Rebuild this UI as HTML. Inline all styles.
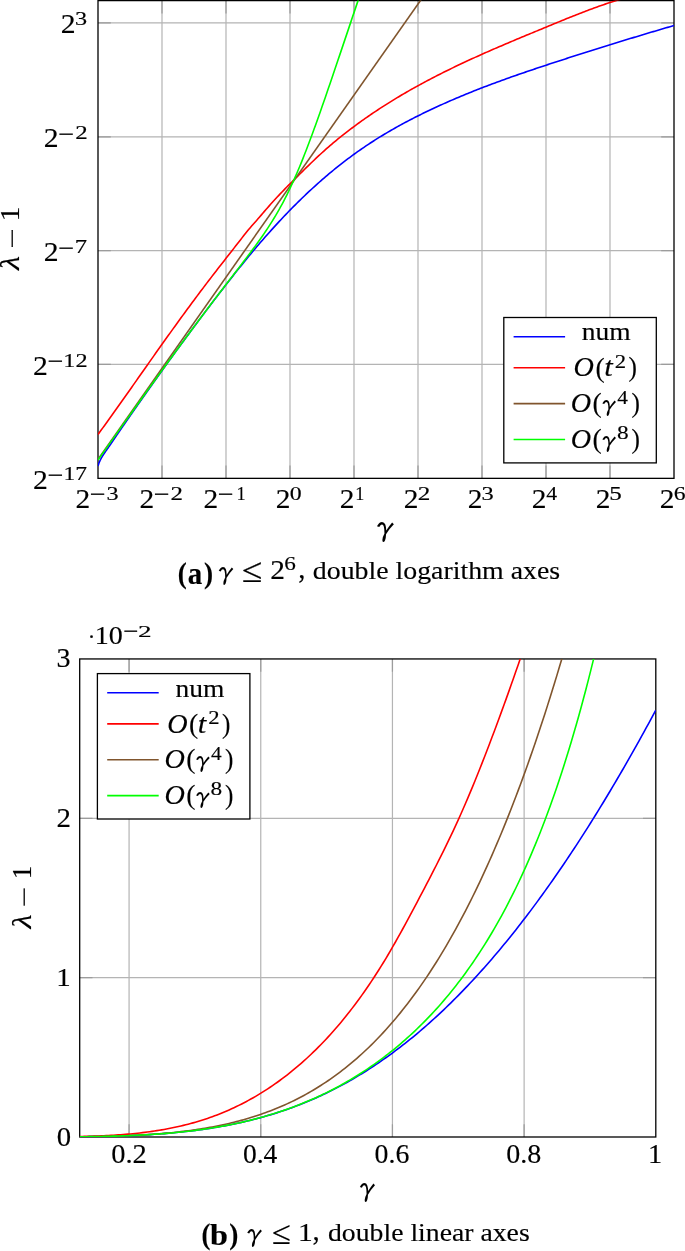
<!DOCTYPE html>
<html><head><meta charset="utf-8"><title>figure</title><style>html,body{margin:0;padding:0;background:#fff;overflow:hidden}svg{display:block}</style></head><body>
<svg width="685" height="1251" viewBox="0 0 685 1251">
<rect width="685" height="1251" fill="#fff"/>
<defs><clipPath id="ca"><rect x="98.0" y="0.6" width="576.0" height="477.75"/></clipPath><clipPath id="cb"><rect x="79.7" y="658.95" width="576.1" height="478.05"/></clipPath></defs>
<path d="M162,0.6V478.35 M226,0.6V478.35 M290,0.6V478.35 M354,0.6V478.35 M418,0.6V478.35 M482,0.6V478.35 M546,0.6V478.35 M610,0.6V478.35 M98,22.96H674 M98,136.8H674 M98,250.63H674 M98,364.47H674" stroke="#b4b4b4" stroke-width="1.2" fill="none"/>
<path d="M162,478.35v-12.8M162,0.6v12.8 M226,478.35v-12.8M226,0.6v12.8 M290,478.35v-12.8M290,0.6v12.8 M354,478.35v-12.8M354,0.6v12.8 M418,478.35v-12.8M418,0.6v12.8 M482,478.35v-12.8M482,0.6v12.8 M546,478.35v-12.8M546,0.6v12.8 M610,478.35v-12.8M610,0.6v12.8 M98,22.96h12.8M674,22.96h-12.8 M98,136.8h12.8M674,136.8h-12.8 M98,250.63h12.8M674,250.63h-12.8 M98,364.47h12.8M674,364.47h-12.8" stroke="#9c9c9c" stroke-width="1.2" fill="none"/>
<rect x="98" y="0.6" width="576" height="477.75" stroke="#000" stroke-width="1.3" fill="none"/>
<g clip-path="url(#ca)" fill="none" stroke-width="1.6" stroke-linejoin="round">
<path d="M98,466.07 L98.2,465.4 L98.4,464.77 L98.6,464.17 L98.8,463.6 L99,463.06 L99.2,462.55 L99.4,462.05 L99.6,461.58 L99.8,461.13 L100,460.69 L100.2,460.26 L100.4,459.85 L100.6,459.46 L100.8,459.07 L101,458.69 L101.2,458.33 L101.4,457.97 L101.6,457.62 L101.8,457.27 L102,456.93 L102.2,456.6 L102.4,456.27 L102.6,455.95 L102.8,455.63 L103,455.31 L103.2,455 L103.4,454.69 L103.6,454.38 L103.8,454.08 L104,453.77 L104.2,453.47 L104.4,453.18 L104.6,452.88 L104.8,452.58 L105,452.29 L105.2,452 L105.4,451.71 L105.6,451.42 L105.8,451.13 L106,450.84 L106.2,450.55 L106.4,450.26 L106.6,449.97 L106.8,449.69 L107,449.4 L107.2,449.12 L107.4,448.83 L107.6,448.55 L107.8,448.26 L108,447.98 L108.2,447.7 L108.4,447.41 L108.6,447.13 L108.8,446.85 L109,446.56 L109.2,446.28 L109.4,446 L109.6,445.72 L109.8,445.44 L110,445.15 L110.2,444.86 L110.4,444.56 L110.6,444.26 L110.8,443.96 L111,443.67 L111.2,443.37 L111.4,443.08 L111.6,442.78 L111.8,442.48 L112,442.19 L112.2,441.89 L112.4,441.6 L112.6,441.3 L112.8,441.01 L113,440.71 L113.2,440.42 L113.4,440.12 L113.6,439.83 L113.8,439.53 L114,439.24 L114.2,438.94 L114.4,438.65 L114.6,438.35 L114.8,438.06 L115,437.77 L115.2,437.47 L115.4,437.18 L115.6,436.88 L115.8,436.59 L116,436.3 L116.2,436 L116.4,435.71 L116.6,435.42 L116.8,435.12 L117,434.83 L117.2,434.54 L117.4,434.25 L117.6,433.95 L117.8,433.66 L118,433.37 L118.2,433.08 L118.4,432.78 L118.6,432.49 L118.8,432.2 L119,431.91 L119.2,431.62 L119.4,431.32 L119.6,431.03 L119.8,430.74 L120,430.45 L120.2,430.16 L120.4,429.87 L120.6,429.58 L120.8,429.28 L121,428.99 L121.2,428.7 L121.4,428.41 L121.6,428.12 L121.8,427.83 L122,427.54 L122.2,427.25 L122.4,426.96 L122.6,426.67 L122.8,426.38 L123,426.09 L123.2,425.8 L123.4,425.51 L123.6,425.22 L123.8,424.93 L124,424.64 L124.2,424.35 L124.4,424.06 L124.6,423.77 L124.8,423.48 L125,423.19 L125.2,422.9 L125.4,422.61 L125.6,422.32 L125.8,422.03 L126,421.74 L126.2,421.45 L126.4,421.16 L126.6,420.88 L126.8,420.59 L127,420.3 L127.2,420.01 L127.4,419.72 L127.6,419.43 L127.8,419.14 L128,418.86 L128.2,418.57 L128.4,418.28 L128.6,417.99 L128.8,417.7 L129,417.42 L129.2,417.13 L129.4,416.84 L129.6,416.55 L129.8,416.26 L130,415.98 L130.2,415.69 L130.4,415.4 L130.6,415.11 L130.8,414.83 L131,414.54 L131.2,414.25 L131.4,413.97 L131.6,413.68 L131.8,413.39 L132,413.1 L132.2,412.82 L132.4,412.53 L132.6,412.24 L132.8,411.96 L133,411.67 L133.2,411.38 L133.4,411.1 L133.6,410.81 L133.8,410.53 L134,410.24 L134.2,409.95 L134.4,409.67 L134.6,409.38 L134.8,409.09 L135,408.81 L135.2,408.52 L135.4,408.24 L135.6,407.95 L135.8,407.67 L136,407.38 L136.2,407.09 L136.4,406.81 L136.6,406.52 L136.8,406.24 L137,405.95 L137.2,405.67 L137.4,405.38 L137.6,405.1 L137.8,404.81 L138,404.53 L138.2,404.24 L138.4,403.96 L138.6,403.67 L138.8,403.39 L139,403.1 L139.2,402.82 L139.4,402.53 L139.6,402.25 L139.8,401.97 L140,401.68 L140.2,401.4 L140.4,401.11 L140.6,400.83 L140.8,400.54 L141,400.26 L141.2,399.98 L141.4,399.69 L141.6,399.41 L141.8,399.12 L142,398.84 L142.2,398.56 L142.4,398.27 L142.6,397.99 L142.8,397.71 L143,397.42 L143.2,397.14 L143.4,396.86 L143.6,396.57 L143.8,396.29 L144,396.01 L144.2,395.72 L144.4,395.44 L144.6,395.16 L144.8,394.87 L145,394.59 L145.2,394.31 L145.4,394.02 L145.6,393.74 L145.8,393.46 L146,393.18 L146.2,392.89 L146.4,392.61 L146.6,392.33 L146.8,392.05 L147,391.76 L147.2,391.48 L147.4,391.2 L147.6,390.92 L147.8,390.64 L148,390.35 L148.2,390.07 L148.4,389.79 L148.6,389.51 L148.8,389.23 L149,388.94 L149.2,388.66 L149.4,388.38 L149.6,388.1 L149.8,387.82 L150,387.54 L150.2,387.25 L150.4,386.97 L150.6,386.69 L150.8,386.4 L151,386.12 L151.2,385.84 L151.4,385.55 L151.6,385.27 L151.8,384.99 L152,384.71 L152.2,384.42 L152.4,384.14 L152.6,383.86 L152.8,383.58 L153,383.29 L153.2,383.01 L153.4,382.73 L153.6,382.45 L153.8,382.16 L154,381.88 L154.2,381.6 L154.4,381.32 L154.6,381.04 L154.8,380.76 L155,380.47 L155.2,380.19 L155.4,379.91 L155.6,379.63 L155.8,379.35 L156,379.07 L156.2,378.79 L156.4,378.51 L156.6,378.23 L156.8,377.94 L157,377.66 L157.2,377.38 L157.4,377.1 L157.6,376.82 L157.8,376.54 L158,376.26 L158.2,375.98 L158.4,375.7 L158.6,375.42 L158.8,375.14 L159,374.86 L159.2,374.58 L159.4,374.3 L159.6,374.02 L159.8,373.74 L160,373.46 L160.2,373.18 L160.4,372.9 L160.6,372.62 L160.8,372.34 L161,372.06 L161.2,371.79 L161.4,371.51 L161.6,371.23 L161.8,370.95 L162,370.67 L162.64,369.78 L164.24,367.55 L165.84,365.33 L167.43,363.11 L169.03,360.9 L170.63,358.69 L172.23,356.49 L173.83,354.29 L175.42,352.09 L177.02,349.9 L178.62,347.71 L180.22,345.53 L181.82,343.35 L183.41,341.17 L185.01,339 L186.61,336.83 L188.21,334.66 L189.81,332.5 L191.4,330.34 L193,328.19 L194.6,326.04 L196.2,323.9 L197.8,321.76 L199.39,319.62 L200.99,317.49 L202.59,315.37 L204.19,313.25 L205.79,311.13 L207.38,309.02 L208.98,306.91 L210.58,304.8 L212.18,302.7 L213.78,300.61 L215.37,298.52 L216.97,296.43 L218.57,294.35 L220.17,292.28 L221.77,290.2 L223.36,288.14 L224.96,286.08 L226.56,284.03 L228.16,281.98 L229.76,279.94 L231.35,277.91 L232.95,275.89 L234.55,273.87 L236.15,271.86 L237.75,269.86 L239.34,267.87 L240.94,265.88 L242.54,263.91 L244.14,261.94 L245.74,259.99 L247.33,258.04 L248.93,256.11 L250.53,254.18 L252.13,252.27 L253.73,250.36 L255.32,248.47 L256.92,246.58 L258.52,244.71 L260.12,242.85 L261.72,241 L263.31,239.16 L264.91,237.33 L266.51,235.51 L268.11,233.71 L269.71,231.91 L271.3,230.13 L272.9,228.36 L274.5,226.6 L276.1,224.85 L277.7,223.11 L279.29,221.39 L280.89,219.68 L282.49,217.98 L284.09,216.29 L285.69,214.62 L287.28,212.95 L288.88,211.3 L290.48,209.67 L292.08,208.04 L293.68,206.43 L295.27,204.82 L296.87,203.24 L298.47,201.66 L300.07,200.09 L301.67,198.54 L303.26,197 L304.86,195.47 L306.46,193.95 L308.06,192.45 L309.66,190.96 L311.25,189.47 L312.85,188.01 L314.45,186.55 L316.05,185.1 L317.65,183.67 L319.24,182.25 L320.84,180.84 L322.44,179.45 L324.04,178.06 L325.64,176.69 L327.23,175.33 L328.83,173.98 L330.43,172.64 L332.03,171.32 L333.63,170 L335.22,168.7 L336.82,167.41 L338.42,166.13 L340.02,164.87 L341.62,163.61 L343.21,162.37 L344.81,161.14 L346.41,159.92 L348.01,158.72 L349.61,157.52 L351.2,156.34 L352.8,155.17 L354.4,154.01 L356,152.86 L357.6,151.72 L359.19,150.6 L360.79,149.48 L362.39,148.38 L363.99,147.29 L365.59,146.21 L367.18,145.14 L368.78,144.08 L370.38,143.03 L371.98,141.99 L373.58,140.96 L375.17,139.94 L376.77,138.93 L378.37,137.93 L379.97,136.94 L381.57,135.96 L383.16,134.99 L384.76,134.03 L386.36,133.08 L387.96,132.13 L389.56,131.2 L391.15,130.27 L392.75,129.35 L394.35,128.44 L395.95,127.54 L397.55,126.65 L399.14,125.76 L400.74,124.89 L402.34,124.02 L403.94,123.15 L405.54,122.3 L407.13,121.45 L408.73,120.61 L410.33,119.78 L411.93,118.95 L413.53,118.13 L415.12,117.32 L416.72,116.51 L418.32,115.71 L419.92,114.91 L421.52,114.12 L423.11,113.34 L424.71,112.56 L426.31,111.79 L427.91,111.02 L429.51,110.26 L431.1,109.51 L432.7,108.76 L434.3,108.01 L435.9,107.27 L437.5,106.53 L439.09,105.8 L440.69,105.08 L442.29,104.36 L443.89,103.64 L445.49,102.93 L447.08,102.22 L448.68,101.52 L450.28,100.82 L451.88,100.13 L453.48,99.44 L455.07,98.75 L456.67,98.07 L458.27,97.4 L459.87,96.73 L461.47,96.06 L463.06,95.4 L464.66,94.74 L466.26,94.08 L467.86,93.43 L469.46,92.78 L471.05,92.14 L472.65,91.5 L474.25,90.86 L475.85,90.23 L477.45,89.6 L479.04,88.97 L480.64,88.35 L482.24,87.73 L483.84,87.12 L485.44,86.5 L487.03,85.9 L488.63,85.29 L490.23,84.69 L491.83,84.09 L493.43,83.49 L495.02,82.9 L496.62,82.31 L498.22,81.72 L499.82,81.14 L501.42,80.55 L503.01,79.97 L504.61,79.4 L506.21,78.82 L507.81,78.25 L509.41,77.68 L511,77.12 L512.6,76.55 L514.2,75.99 L515.8,75.43 L517.4,74.87 L518.99,74.32 L520.59,73.76 L522.19,73.21 L523.79,72.66 L525.39,72.12 L526.98,71.57 L528.58,71.03 L530.18,70.49 L531.78,69.95 L533.38,69.41 L534.97,68.87 L536.57,68.33 L538.17,67.8 L539.77,67.27 L541.37,66.74 L542.96,66.21 L544.56,65.68 L546.16,65.15 L547.76,64.62 L549.36,64.1 L550.95,63.57 L552.55,63.05 L554.15,62.53 L555.75,62.01 L557.35,61.48 L558.94,60.96 L560.54,60.45 L562.14,59.93 L563.74,59.41 L565.34,58.89 L566.93,58.38 L568.53,57.86 L570.13,57.35 L571.73,56.83 L573.33,56.32 L574.92,55.81 L576.52,55.3 L578.12,54.78 L579.72,54.27 L581.32,53.77 L582.91,53.26 L584.51,52.75 L586.11,52.24 L587.71,51.74 L589.31,51.23 L590.9,50.73 L592.5,50.22 L594.1,49.72 L595.7,49.22 L597.3,48.72 L598.89,48.21 L600.49,47.71 L602.09,47.22 L603.69,46.72 L605.29,46.22 L606.88,45.72 L608.48,45.23 L610.08,44.73 L611.68,44.23 L613.28,43.74 L614.87,43.25 L616.47,42.75 L618.07,42.26 L619.67,41.77 L621.27,41.28 L622.86,40.79 L624.46,40.3 L626.06,39.81 L627.66,39.33 L629.26,38.84 L630.85,38.35 L632.45,37.87 L634.05,37.38 L635.65,36.9 L637.25,36.42 L638.84,35.93 L640.44,35.45 L642.04,34.97 L643.64,34.49 L645.24,34.01 L646.83,33.53 L648.43,33.05 L650.03,32.58 L651.63,32.1 L653.23,31.62 L654.82,31.15 L656.42,30.67 L658.02,30.2 L659.62,29.72 L661.22,29.25 L662.81,28.78 L664.41,28.31 L666.01,27.84 L667.61,27.37 L669.21,26.9 L670.8,26.43 L672.4,25.96 L674,25.5" stroke="#0000ff"/>
<path d="M98,434.44 L99.6,432.26 L101.2,430.06 L102.8,427.86 L104.4,425.66 L106,423.44 L107.6,421.22 L109.2,419 L110.8,416.77 L112.4,414.54 L114,412.3 L115.6,410.05 L117.2,407.8 L118.8,405.55 L120.4,403.29 L122,401.04 L123.6,398.77 L125.2,396.51 L126.8,394.24 L128.4,391.97 L130,389.7 L131.6,387.42 L133.2,385.15 L134.8,382.87 L136.4,380.6 L138,378.32 L139.6,376.04 L141.2,373.77 L142.8,371.49 L144.4,369.21 L146,366.94 L147.6,364.67 L149.2,362.39 L150.8,360.12 L152.4,357.86 L154,355.59 L155.6,353.33 L157.2,351.07 L158.8,348.81 L160.4,346.56 L162,344.31 L163.6,342.06 L165.2,339.81 L166.8,337.57 L168.4,335.34 L170,333.1 L171.6,330.88 L173.2,328.65 L174.8,326.43 L176.4,324.21 L178,322 L179.6,319.8 L181.2,317.59 L182.8,315.4 L184.4,313.21 L186,311.02 L187.6,308.84 L189.2,306.66 L190.8,304.49 L192.4,302.33 L194,300.17 L195.6,298.02 L197.2,295.87 L198.8,293.73 L200.4,291.6 L202,289.48 L203.6,287.36 L205.2,285.24 L206.8,283.14 L208.4,281.04 L210,278.95 L211.6,276.87 L213.2,274.79 L214.8,272.72 L216.4,270.66 L218,268.6 L219.6,266.54 L221.2,264.49 L222.8,262.44 L224.4,260.4 L226,258.35 L227.6,256.31 L229.2,254.26 L230.8,252.22 L232.4,250.18 L234,248.13 L235.6,246.09 L237.2,244.04 L238.8,241.98 L240.4,239.93 L242,237.87 L243.6,235.81 L245.2,233.77 L246.8,231.77 L248.4,229.81 L250,227.92 L251.6,226.08 L253.2,224.27 L254.8,222.47 L256.4,220.67 L258,218.84 L259.6,216.98 L261.2,215.11 L262.8,213.23 L264.4,211.37 L266,209.52 L267.6,207.69 L269.2,205.88 L270.8,204.08 L272.4,202.3 L274,200.53 L275.6,198.78 L277.2,197.05 L278.8,195.34 L280.4,193.65 L282,191.98 L283.6,190.32 L285.2,188.68 L286.8,187.05 L288.4,185.43 L290,183.82 L291.6,182.22 L293.2,180.62 L294.8,179.02 L296.4,177.43 L298,175.83 L299.6,174.24 L301.2,172.66 L302.8,171.08 L304.4,169.5 L306,167.93 L307.6,166.37 L309.2,164.82 L310.8,163.27 L312.4,161.73 L314,160.21 L315.6,158.69 L317.2,157.19 L318.8,155.7 L320.4,154.22 L322,152.76 L323.6,151.31 L325.2,149.88 L326.8,148.46 L328.4,147.06 L330,145.68 L331.6,144.31 L333.2,142.95 L334.8,141.61 L336.4,140.29 L338,138.98 L339.6,137.68 L341.2,136.39 L342.8,135.12 L344.4,133.86 L346,132.61 L347.6,131.38 L349.2,130.15 L350.8,128.94 L352.4,127.74 L354,126.54 L355.6,125.36 L357.2,124.18 L358.8,123.02 L360.4,121.86 L362,120.72 L363.6,119.58 L365.2,118.45 L366.8,117.34 L368.4,116.23 L370,115.12 L371.6,114.03 L373.2,112.95 L374.8,111.87 L376.4,110.81 L378,109.75 L379.6,108.7 L381.2,107.66 L382.8,106.62 L384.4,105.6 L386,104.58 L387.6,103.57 L389.2,102.57 L390.8,101.57 L392.4,100.59 L394,99.6 L395.6,98.63 L397.2,97.67 L398.8,96.71 L400.4,95.76 L402,94.81 L403.6,93.87 L405.2,92.94 L406.8,92.01 L408.4,91.1 L410,90.18 L411.6,89.28 L413.2,88.38 L414.8,87.48 L416.4,86.6 L418,85.71 L419.6,84.84 L421.2,83.97 L422.8,83.1 L424.4,82.24 L426,81.39 L427.6,80.54 L429.2,79.69 L430.8,78.86 L432.4,78.02 L434,77.19 L435.6,76.37 L437.2,75.55 L438.8,74.74 L440.4,73.93 L442,73.12 L443.6,72.32 L445.2,71.52 L446.8,70.73 L448.4,69.94 L450,69.16 L451.6,68.38 L453.2,67.61 L454.8,66.83 L456.4,66.07 L458,65.3 L459.6,64.54 L461.2,63.79 L462.8,63.04 L464.4,62.29 L466,61.54 L467.6,60.8 L469.2,60.06 L470.8,59.33 L472.4,58.59 L474,57.87 L475.6,57.14 L477.2,56.42 L478.8,55.7 L480.4,54.98 L482,54.27 L483.6,53.56 L485.2,52.85 L486.8,52.14 L488.4,51.44 L490,50.74 L491.6,50.04 L493.2,49.34 L494.8,48.64 L496.4,47.95 L498,47.26 L499.6,46.57 L501.2,45.89 L502.8,45.2 L504.4,44.52 L506,43.84 L507.6,43.16 L509.2,42.48 L510.8,41.81 L512.4,41.13 L514,40.46 L515.6,39.78 L517.2,39.11 L518.8,38.44 L520.4,37.77 L522,37.11 L523.6,36.44 L525.2,35.77 L526.8,35.11 L528.4,34.44 L530,33.78 L531.6,33.12 L533.2,32.45 L534.8,31.79 L536.4,31.13 L538,30.47 L539.6,29.8 L541.2,29.14 L542.8,28.48 L544.4,27.82 L546,27.16 L547.6,26.5 L549.2,25.83 L550.8,25.17 L552.4,24.51 L554,23.85 L555.6,23.19 L557.2,22.53 L558.8,21.87 L560.4,21.22 L562,20.56 L563.6,19.91 L565.2,19.26 L566.8,18.61 L568.4,17.96 L570,17.32 L571.6,16.67 L573.2,16.04 L574.8,15.4 L576.4,14.77 L578,14.14 L579.6,13.51 L581.2,12.89 L582.8,12.27 L584.4,11.65 L586,11.04 L587.6,10.44 L589.2,9.84 L590.8,9.24 L592.4,8.65 L594,8.06 L595.6,7.48 L597.2,6.91 L598.8,6.34 L600.4,5.77 L602,5.21 L603.6,4.66 L605.2,4.12 L606.8,3.58 L608.4,3.05 L610,2.53 L611.6,2.01 L613.2,1.5 L614.8,1 L616.4,0.5 L618,0.02 L619.6,-0.46 L621.2,-0.93 L622.8,-1.39" stroke="#ff0000"/>
<path d="M98,459.4 L424.4,-5.05" stroke="#80552d"/>
<path d="M98,459.93 L99.6,457.67 L101.2,455.41 L102.8,453.15 L104.4,450.9 L106,448.64 L107.6,446.39 L109.2,444.13 L110.8,441.88 L112.4,439.63 L114,437.38 L115.6,435.13 L117.2,432.88 L118.8,430.63 L120.4,428.38 L122,426.13 L123.6,423.89 L125.2,421.64 L126.8,419.4 L128.4,417.15 L130,414.91 L131.6,412.67 L133.2,410.43 L134.8,408.2 L136.4,405.96 L138,403.72 L139.6,401.49 L141.2,399.26 L142.8,397.03 L144.4,394.8 L146,392.57 L147.6,390.34 L149.2,388.12 L150.8,385.9 L152.4,383.68 L154,381.46 L155.6,379.24 L157.2,377.02 L158.8,374.81 L160.4,372.6 L162,370.39 L163.6,368.19 L165.2,365.98 L166.8,363.78 L168.4,361.58 L170,359.38 L171.6,357.19 L173.2,355 L174.8,352.81 L176.4,350.62 L178,348.44 L179.6,346.26 L181.2,344.08 L182.8,341.9 L184.4,339.73 L186,337.56 L187.6,335.4 L189.2,333.24 L190.8,331.08 L192.4,328.92 L194,326.77 L195.6,324.62 L197.2,322.48 L198.8,320.34 L200.4,318.2 L202,316.07 L203.6,313.94 L205.2,311.81 L206.8,309.69 L208.4,307.57 L210,305.46 L211.6,303.35 L213.2,301.24 L214.8,299.14 L216.4,297.04 L218,294.94 L219.6,292.85 L221.2,290.75 L222.8,288.67 L224.4,286.58 L226,284.5 L227.6,282.42 L229.2,280.34 L230.8,278.26 L232.4,276.18 L234,274.1 L235.6,272.03 L237.2,269.95 L238.8,267.87 L240.4,265.78 L242,263.69 L243.6,261.6 L245.2,259.5 L246.8,257.39 L248.4,255.27 L250,253.15 L251.6,251.01 L253.2,248.85 L254.8,246.68 L256.4,244.49 L258,242.27 L259.6,240.04 L261.2,237.77 L262.8,235.48 L264.4,233.15 L266,230.78 L267.6,228.38 L269.2,225.93 L270.8,223.43 L272.4,220.88 L274,218.27 L275.6,215.61 L277.2,212.88 L278.8,210.09 L280.4,207.23 L282,204.29 L283.6,201.28 L285.2,198.19 L286.8,195.02 L288.4,191.77 L290,188.44 L291.6,185.03 L293.2,181.53 L294.8,177.95 L296.4,174.29 L298,170.54 L299.6,166.73 L301.2,162.83 L302.8,158.86 L304.4,154.82 L306,150.72 L307.6,146.55 L309.2,142.33 L310.8,138.05 L312.4,133.72 L314,129.34 L315.6,124.91 L317.2,120.45 L318.8,115.95 L320.4,111.41 L322,106.84 L323.6,102.25 L325.2,97.64 L326.8,93 L328.4,88.34 L330,83.66 L331.6,78.97 L333.2,74.27 L334.8,69.56 L336.4,64.84 L338,60.11 L339.6,55.37 L341.2,50.63 L342.8,45.88 L344.4,41.13 L346,36.38 L347.6,31.63 L349.2,26.88 L350.8,22.13 L352.4,17.37 L354,12.62 L355.6,7.87 L357.2,3.13 L358.8,-1.62 L360.4,-6.36 L362,-11.1 L363.6,-15.84 L365.2,-20.57 L366.8,-25.3" stroke="#00ff00"/>
</g>
<rect x="503.8" y="317.5" width="152.5" height="145.4" fill="#fff" stroke="#000" stroke-width="1.3"/>
<path d="M513.6,336.7H565.1" stroke="#0000ff" stroke-width="1.6"/>
<path d="M513.6,367.8H565.1" stroke="#ff0000" stroke-width="1.6"/>
<path d="M513.6,403.6H565.1" stroke="#80552d" stroke-width="1.6"/>
<path d="M513.6,439.5H565.1" stroke="#00ff00" stroke-width="1.6"/>
<g font-family="'Liberation Serif', serif" fill="#000" stroke="#000" stroke-width="0.15" stroke-linejoin="round">
<text x="581.87" y="340.4" font-size="25.05" textLength="48.87" lengthAdjust="spacingAndGlyphs">num</text>
<text x="573.59" y="376.4" font-size="26.74" font-style="italic" textLength="20.36" lengthAdjust="spacingAndGlyphs">O</text>
<text x="595.38" y="376.66" font-size="28.34" textLength="9.2" lengthAdjust="spacingAndGlyphs">(</text>
<text x="604.15" y="376.4" font-size="27" font-style="italic" textLength="8.53" lengthAdjust="spacingAndGlyphs">t</text>
<text x="614.7" y="367.7" font-size="19.03" textLength="11.35" lengthAdjust="spacingAndGlyphs">2</text>
<text x="628.39" y="376.49" font-size="28.22" textLength="8.42" lengthAdjust="spacingAndGlyphs">)</text>
<text x="570.89" y="412.1" font-size="26.74" font-style="italic" textLength="20.36" lengthAdjust="spacingAndGlyphs">O</text>
<text x="592.58" y="412.36" font-size="28.34" textLength="9.2" lengthAdjust="spacingAndGlyphs">(</text>
<text transform="translate(597.78,414.34) scale(0.9017,1) skewX(-0.00)" font-size="25.39" font-family="'IPAGothic', 'Liberation Serif', serif" stroke-width="0.0">γ</text>
<text x="617.37" y="403.6" font-size="19.3" textLength="10.67" lengthAdjust="spacingAndGlyphs">4</text>
<text x="631.49" y="412.19" font-size="28.22" textLength="8.42" lengthAdjust="spacingAndGlyphs">)</text>
<text x="570.89" y="447.7" font-size="26.74" font-style="italic" textLength="20.36" lengthAdjust="spacingAndGlyphs">O</text>
<text x="592.58" y="447.96" font-size="28.34" textLength="9.2" lengthAdjust="spacingAndGlyphs">(</text>
<text transform="translate(597.78,449.94) scale(0.9017,1) skewX(-0.00)" font-size="25.39" font-family="'IPAGothic', 'Liberation Serif', serif" stroke-width="0.0">γ</text>
<text x="616.91" y="439.01" font-size="18.81" textLength="11.67" lengthAdjust="spacingAndGlyphs">8</text>
<text x="631.49" y="447.79" font-size="28.22" textLength="8.42" lengthAdjust="spacingAndGlyphs">)</text>
</g>
<g font-family="'Liberation Serif', serif" fill="#000" stroke="#000" stroke-width="0.15" stroke-linejoin="round">
<text x="75.14" y="24.88" font-size="18.3" textLength="12.11" lengthAdjust="spacingAndGlyphs">3</text>
<text x="60.79" y="33.31" font-size="26.51" textLength="14.84" lengthAdjust="spacingAndGlyphs">2</text>
<text x="75.2" y="138.9" font-size="18.58" textLength="12.47" lengthAdjust="spacingAndGlyphs">2</text>
<text x="58.38" y="141.81" font-size="24" textLength="16.01" lengthAdjust="spacingAndGlyphs">−</text>
<text x="43.79" y="147.15" font-size="26.51" textLength="14.84" lengthAdjust="spacingAndGlyphs">2</text>
<text x="74.67" y="252.73" font-size="18.78" textLength="12.35" lengthAdjust="spacingAndGlyphs">7</text>
<text x="58.38" y="255.65" font-size="24" textLength="16.01" lengthAdjust="spacingAndGlyphs">−</text>
<text x="43.79" y="260.98" font-size="26.51" textLength="14.84" lengthAdjust="spacingAndGlyphs">2</text>
<text x="63.36" y="366.57" font-size="18.58" textLength="24.27" lengthAdjust="spacingAndGlyphs">12</text>
<text x="47.58" y="369.48" font-size="24" textLength="16.01" lengthAdjust="spacingAndGlyphs">−</text>
<text x="32.99" y="374.82" font-size="26.51" textLength="14.84" lengthAdjust="spacingAndGlyphs">2</text>
<text x="63.43" y="480.4" font-size="18.64" textLength="23.56" lengthAdjust="spacingAndGlyphs">17</text>
<text x="47.58" y="483.32" font-size="24" textLength="16.01" lengthAdjust="spacingAndGlyphs">−</text>
<text x="32.99" y="488.65" font-size="26.51" textLength="14.84" lengthAdjust="spacingAndGlyphs">2</text>
<text x="75.61" y="507.9" font-size="26.59" textLength="14.71" lengthAdjust="spacingAndGlyphs">2</text>
<text x="89.69" y="502.47" font-size="24" textLength="15.89" lengthAdjust="spacingAndGlyphs">−</text>
<text x="106.44" y="499.72" font-size="18.3" textLength="12.11" lengthAdjust="spacingAndGlyphs">3</text>
<text x="139.61" y="507.9" font-size="26.59" textLength="14.71" lengthAdjust="spacingAndGlyphs">2</text>
<text x="153.69" y="502.47" font-size="24" textLength="15.89" lengthAdjust="spacingAndGlyphs">−</text>
<text x="170.5" y="499.9" font-size="18.58" textLength="12.47" lengthAdjust="spacingAndGlyphs">2</text>
<text x="203.61" y="507.9" font-size="26.59" textLength="14.71" lengthAdjust="spacingAndGlyphs">2</text>
<text x="217.69" y="502.47" font-size="24" textLength="15.89" lengthAdjust="spacingAndGlyphs">−</text>
<text x="236.38" y="499.9" font-size="18.64" textLength="9.23" lengthAdjust="spacingAndGlyphs">1</text>
<text x="275.86" y="507.9" font-size="26.59" textLength="14.71" lengthAdjust="spacingAndGlyphs">2</text>
<text x="289.89" y="499.72" font-size="18.22" textLength="11.91" lengthAdjust="spacingAndGlyphs">0</text>
<text x="339.86" y="507.9" font-size="26.59" textLength="14.71" lengthAdjust="spacingAndGlyphs">2</text>
<text x="355.2" y="499.9" font-size="18.64" textLength="9.09" lengthAdjust="spacingAndGlyphs">1</text>
<text x="403.86" y="507.9" font-size="26.59" textLength="14.71" lengthAdjust="spacingAndGlyphs">2</text>
<text x="417.69" y="499.9" font-size="18.58" textLength="12.59" lengthAdjust="spacingAndGlyphs">2</text>
<text x="467.86" y="507.9" font-size="26.59" textLength="14.71" lengthAdjust="spacingAndGlyphs">2</text>
<text x="481.63" y="499.72" font-size="18.3" textLength="12.23" lengthAdjust="spacingAndGlyphs">3</text>
<text x="531.86" y="507.9" font-size="26.59" textLength="14.71" lengthAdjust="spacingAndGlyphs">2</text>
<text x="546.36" y="499.9" font-size="18.69" textLength="10.88" lengthAdjust="spacingAndGlyphs">4</text>
<text x="595.86" y="507.9" font-size="26.59" textLength="14.71" lengthAdjust="spacingAndGlyphs">2</text>
<text x="609.35" y="499.72" font-size="18.5" textLength="12.53" lengthAdjust="spacingAndGlyphs">5</text>
<text x="659.86" y="507.9" font-size="26.59" textLength="14.71" lengthAdjust="spacingAndGlyphs">2</text>
<text x="673.78" y="499.72" font-size="18.3" textLength="11.83" lengthAdjust="spacingAndGlyphs">6</text>
<text transform="translate(371.35,539.49) scale(0.9405,1) skewX(-0.00)" font-size="30.25" font-family="'IPAGothic', 'Liberation Serif', serif" stroke-width="0.0">γ</text>
<g transform="translate(18.7,0) rotate(-90)">
<text x="-269.93" y="0" font-size="26.56" font-style="italic" textLength="13.94" lengthAdjust="spacingAndGlyphs">λ</text>
<text x="-248.51" y="1.37" font-size="24" textLength="20.38" lengthAdjust="spacingAndGlyphs">−</text>
<text x="-221.55" y="0" font-size="26.67" textLength="15.06" lengthAdjust="spacingAndGlyphs">1</text>
</g>
<text x="177.7" y="583.22" font-size="29" font-weight="bold" textLength="9.07" lengthAdjust="spacingAndGlyphs">(</text>
<text x="187.67" y="583.88" font-size="32.15" font-weight="bold" textLength="14.46" lengthAdjust="spacingAndGlyphs">a</text>
<text x="203.93" y="583.22" font-size="29" font-weight="bold" textLength="9.07" lengthAdjust="spacingAndGlyphs">)</text>
<text transform="translate(213.84,581.79) scale(0.9117,1) skewX(-0.00)" font-size="26.96" font-family="'IPAGothic', 'Liberation Serif', serif" stroke-width="0.0">γ</text>
<text x="242.06" y="582" font-size="34.32" textLength="20.61" lengthAdjust="spacingAndGlyphs">≤</text>
<text x="270.31" y="578.9" font-size="27.19" textLength="14.71" lengthAdjust="spacingAndGlyphs">2</text>
<text x="284.3" y="569.52" font-size="18.3" textLength="11.59" lengthAdjust="spacingAndGlyphs">6</text>
<text x="298.2" y="578.13" font-size="30.35" textLength="7.21" lengthAdjust="spacingAndGlyphs">,</text>
<text x="312.8" y="579.1" font-size="25.65" textLength="247.4" lengthAdjust="spacingAndGlyphs">double logarithm axes</text>
</g>
<path d="M129.08,658.95V1137 M260.76,658.95V1137 M392.44,658.95V1137 M524.12,658.95V1137 M79.7,977.65H655.8 M79.7,818.3H655.8" stroke="#b4b4b4" stroke-width="1.2" fill="none"/>
<path d="M129.08,1137v-12.8M129.08,658.95v12.8 M260.76,1137v-12.8M260.76,658.95v12.8 M392.44,1137v-12.8M392.44,658.95v12.8 M524.12,1137v-12.8M524.12,658.95v12.8 M79.7,977.65h12.8M655.8,977.65h-12.8 M79.7,818.3h12.8M655.8,818.3h-12.8" stroke="#9c9c9c" stroke-width="1.2" fill="none"/>
<rect x="79.7" y="658.95" width="576.1" height="478.05" stroke="#000" stroke-width="1.3" fill="none"/>
<g clip-path="url(#cb)" fill="none" stroke-width="1.6" stroke-linejoin="round">
<path d="M79.7,1136.79 L82.11,1136.76 L84.52,1136.73 L86.93,1136.7 L89.34,1136.67 L91.75,1136.63 L94.16,1136.6 L96.57,1136.56 L98.98,1136.51 L101.39,1136.46 L103.8,1136.41 L106.22,1136.36 L108.63,1136.3 L111.04,1136.24 L113.45,1136.17 L115.86,1136.1 L118.27,1136.03 L120.68,1135.95 L123.09,1135.87 L125.5,1135.78 L127.91,1135.69 L130.32,1135.59 L132.73,1135.49 L135.14,1135.38 L137.55,1135.27 L139.96,1135.15 L142.37,1135.02 L144.78,1134.89 L147.19,1134.75 L149.6,1134.61 L152.01,1134.46 L154.42,1134.3 L156.83,1134.13 L159.25,1133.96 L161.66,1133.78 L164.07,1133.6 L166.48,1133.4 L168.89,1133.2 L171.3,1132.99 L173.71,1132.77 L176.12,1132.54 L178.53,1132.3 L180.94,1132.06 L183.35,1131.8 L185.76,1131.54 L188.17,1131.27 L190.58,1130.98 L192.99,1130.69 L195.4,1130.39 L197.81,1130.07 L200.22,1129.75 L202.63,1129.42 L205.04,1129.07 L207.45,1128.71 L209.86,1128.35 L212.28,1127.97 L214.69,1127.58 L217.1,1127.17 L219.51,1126.76 L221.92,1126.33 L224.33,1125.89 L226.74,1125.44 L229.15,1124.97 L231.56,1124.49 L233.97,1124 L236.38,1123.49 L238.79,1122.98 L241.2,1122.44 L243.61,1121.89 L246.02,1121.33 L248.43,1120.76 L250.84,1120.16 L253.25,1119.56 L255.66,1118.94 L258.07,1118.3 L260.48,1117.65 L262.89,1116.98 L265.31,1116.3 L267.72,1115.6 L270.13,1114.88 L272.54,1114.15 L274.95,1113.4 L277.36,1112.63 L279.77,1111.85 L282.18,1111.05 L284.59,1110.23 L287,1109.39 L289.41,1108.54 L291.82,1107.66 L294.23,1106.77 L296.64,1105.86 L299.05,1104.93 L301.46,1103.99 L303.87,1103.02 L306.28,1102.03 L308.69,1101.03 L311.1,1100 L313.51,1098.96 L315.93,1097.9 L318.34,1096.81 L320.75,1095.71 L323.16,1094.58 L325.57,1093.44 L327.98,1092.27 L330.39,1091.08 L332.8,1089.88 L335.21,1088.65 L337.62,1087.4 L340.03,1086.13 L342.44,1084.83 L344.85,1083.52 L347.26,1082.18 L349.67,1080.83 L352.08,1079.45 L354.49,1078.05 L356.9,1076.62 L359.31,1075.18 L361.72,1073.71 L364.13,1072.22 L366.54,1070.7 L368.96,1069.16 L371.37,1067.61 L373.78,1066.02 L376.19,1064.42 L378.6,1062.79 L381.01,1061.14 L383.42,1059.46 L385.83,1057.76 L388.24,1056.04 L390.65,1054.3 L393.06,1052.53 L395.47,1050.73 L397.88,1048.92 L400.29,1047.08 L402.7,1045.21 L405.11,1043.33 L407.52,1041.41 L409.93,1039.48 L412.34,1037.52 L414.75,1035.53 L417.16,1033.52 L419.57,1031.49 L421.99,1029.43 L424.4,1027.35 L426.81,1025.24 L429.22,1023.11 L431.63,1020.95 L434.04,1018.77 L436.45,1016.57 L438.86,1014.34 L441.27,1012.08 L443.68,1009.8 L446.09,1007.5 L448.5,1005.17 L450.91,1002.81 L453.32,1000.43 L455.73,998.03 L458.14,995.6 L460.55,993.14 L462.96,990.66 L465.37,988.15 L467.78,985.62 L470.19,983.07 L472.61,980.48 L475.02,977.88 L477.43,975.24 L479.84,972.58 L482.25,969.9 L484.66,967.19 L487.07,964.46 L489.48,961.69 L491.89,958.91 L494.3,956.1 L496.71,953.26 L499.12,950.4 L501.53,947.51 L503.94,944.6 L506.35,941.66 L508.76,938.69 L511.17,935.7 L513.58,932.68 L515.99,929.64 L518.4,926.58 L520.81,923.48 L523.22,920.36 L525.64,917.22 L528.05,914.05 L530.46,910.86 L532.87,907.64 L535.28,904.39 L537.69,901.12 L540.1,897.82 L542.51,894.5 L544.92,891.15 L547.33,887.78 L549.74,884.38 L552.15,880.95 L554.56,877.5 L556.97,874.03 L559.38,870.53 L561.79,867 L564.2,863.45 L566.61,859.88 L569.02,856.28 L571.43,852.65 L573.84,849 L576.25,845.32 L578.67,841.62 L581.08,837.89 L583.49,834.14 L585.9,830.36 L588.31,826.56 L590.72,822.74 L593.13,818.88 L595.54,815.01 L597.95,811.11 L600.36,807.18 L602.77,803.23 L605.18,799.26 L607.59,795.26 L610,791.23 L612.41,787.18 L614.82,783.11 L617.23,779.01 L619.64,774.89 L622.05,770.74 L624.46,766.57 L626.87,762.38 L629.28,758.16 L631.7,753.91 L634.11,749.64 L636.52,745.35 L638.93,741.03 L641.34,736.69 L643.75,732.33 L646.16,727.94 L648.57,723.53 L650.98,719.09 L653.39,714.63 L655.8,710.14" stroke="#0000ff"/>
<path d="M79.7,1136.54 L82.11,1136.48 L84.52,1136.42 L86.93,1136.36 L89.34,1136.29 L91.75,1136.21 L94.16,1136.13 L96.57,1136.04 L98.98,1135.95 L101.39,1135.85 L103.8,1135.74 L106.22,1135.62 L108.63,1135.49 L111.04,1135.36 L113.45,1135.22 L115.86,1135.06 L118.27,1134.9 L120.68,1134.73 L123.09,1134.55 L125.5,1134.35 L127.91,1134.15 L130.32,1133.93 L132.73,1133.7 L135.14,1133.46 L137.55,1133.21 L139.96,1132.94 L142.37,1132.66 L144.78,1132.36 L147.19,1132.06 L149.6,1131.73 L152.01,1131.39 L154.42,1131.04 L156.83,1130.66 L159.25,1130.28 L161.66,1129.87 L164.07,1129.45 L166.48,1129.01 L168.89,1128.55 L171.3,1128.07 L173.71,1127.58 L176.12,1127.06 L178.53,1126.53 L180.94,1125.97 L183.35,1125.39 L185.76,1124.8 L188.17,1124.18 L190.58,1123.53 L192.99,1122.87 L195.4,1122.18 L197.81,1121.47 L200.22,1120.74 L202.63,1119.98 L205.04,1119.19 L207.45,1118.39 L209.86,1117.55 L212.28,1116.69 L214.69,1115.81 L217.1,1114.89 L219.51,1113.95 L221.92,1112.98 L224.33,1111.99 L226.74,1110.96 L229.15,1109.91 L231.56,1108.83 L233.97,1107.72 L236.38,1106.57 L238.79,1105.4 L241.2,1104.2 L243.61,1102.97 L246.02,1101.7 L248.43,1100.4 L250.84,1099.07 L253.25,1097.71 L255.66,1096.32 L258.07,1094.89 L260.48,1093.43 L262.89,1091.93 L265.31,1090.4 L267.72,1088.84 L270.13,1087.24 L272.54,1085.6 L274.95,1083.93 L277.36,1082.23 L279.77,1080.48 L282.18,1078.7 L284.59,1076.88 L287,1075.03 L289.41,1073.13 L291.82,1071.2 L294.23,1069.22 L296.64,1067.21 L299.05,1065.16 L301.46,1063.06 L303.87,1060.92 L306.28,1058.74 L308.69,1056.52 L311.1,1054.25 L313.51,1051.94 L315.93,1049.58 L318.34,1047.18 L320.75,1044.73 L323.16,1042.23 L325.57,1039.69 L327.98,1037.1 L330.39,1034.46 L332.8,1031.77 L335.21,1029.03 L337.62,1026.24 L340.03,1023.4 L342.44,1020.5 L344.85,1017.55 L347.26,1014.55 L349.67,1011.5 L352.08,1008.38 L354.49,1005.22 L356.9,1001.99 L359.31,998.71 L361.72,995.37 L364.13,991.97 L366.54,988.51 L368.96,984.98 L371.37,981.4 L373.78,977.75 L376.19,974.04 L378.6,970.26 L381.01,966.42 L383.42,962.52 L385.83,958.54 L388.24,954.5 L390.65,950.39 L393.06,946.22 L395.47,942 L397.88,937.72 L400.29,933.39 L402.7,929.01 L405.11,924.59 L407.52,920.14 L409.93,915.65 L412.34,911.13 L414.75,906.59 L417.16,902.03 L419.57,897.46 L421.99,892.88 L424.4,888.28 L426.81,883.67 L429.22,879.04 L431.63,874.39 L434.04,869.71 L436.45,864.99 L438.86,860.23 L441.27,855.43 L443.68,850.58 L446.09,845.68 L448.5,840.71 L450.91,835.68 L453.32,830.57 L455.73,825.38 L458.14,820.11 L460.55,814.75 L462.96,809.29 L465.37,803.74 L467.78,798.11 L470.19,792.39 L472.61,786.58 L475.02,780.7 L477.43,774.74 L479.84,768.7 L482.25,762.6 L484.66,756.44 L487.07,750.21 L489.48,743.92 L491.89,737.58 L494.3,731.18 L496.71,724.73 L499.12,718.22 L501.53,711.65 L503.94,705.03 L506.35,698.36 L508.76,691.62 L511.17,684.84 L513.58,677.99 L515.99,671.1 L518.4,664.15 L520.81,657.14 L523.22,650.08" stroke="#ff0000"/>
<path d="M79.7,1136.78 L82.11,1136.76 L84.52,1136.73 L86.93,1136.7 L89.34,1136.66 L91.75,1136.63 L94.16,1136.59 L96.57,1136.54 L98.98,1136.5 L101.39,1136.45 L103.8,1136.4 L106.22,1136.34 L108.63,1136.28 L111.04,1136.21 L113.45,1136.15 L115.86,1136.07 L118.27,1135.99 L120.68,1135.91 L123.09,1135.82 L125.5,1135.73 L127.91,1135.63 L130.32,1135.53 L132.73,1135.42 L135.14,1135.3 L137.55,1135.18 L139.96,1135.05 L142.37,1134.92 L144.78,1134.78 L147.19,1134.63 L149.6,1134.47 L152.01,1134.31 L154.42,1134.14 L156.83,1133.96 L159.25,1133.77 L161.66,1133.57 L164.07,1133.36 L166.48,1133.15 L168.89,1132.93 L171.3,1132.69 L173.71,1132.45 L176.12,1132.19 L178.53,1131.93 L180.94,1131.65 L183.35,1131.37 L185.76,1131.07 L188.17,1130.76 L190.58,1130.44 L192.99,1130.11 L195.4,1129.76 L197.81,1129.4 L200.22,1129.03 L202.63,1128.64 L205.04,1128.24 L207.45,1127.83 L209.86,1127.4 L212.28,1126.96 L214.69,1126.5 L217.1,1126.02 L219.51,1125.54 L221.92,1125.03 L224.33,1124.51 L226.74,1123.97 L229.15,1123.41 L231.56,1122.84 L233.97,1122.24 L236.38,1121.63 L238.79,1121 L241.2,1120.36 L243.61,1119.69 L246.02,1119 L248.43,1118.29 L250.84,1117.56 L253.25,1116.81 L255.66,1116.04 L258.07,1115.25 L260.48,1114.43 L262.89,1113.59 L265.31,1112.73 L267.72,1111.85 L270.13,1110.94 L272.54,1110 L274.95,1109.04 L277.36,1108.06 L279.77,1107.05 L282.18,1106.02 L284.59,1104.95 L287,1103.86 L289.41,1102.75 L291.82,1101.6 L294.23,1100.43 L296.64,1099.22 L299.05,1097.99 L301.46,1096.73 L303.87,1095.44 L306.28,1094.12 L308.69,1092.76 L311.1,1091.38 L313.51,1089.96 L315.93,1088.51 L318.34,1087.02 L320.75,1085.5 L323.16,1083.95 L325.57,1082.36 L327.98,1080.74 L330.39,1079.08 L332.8,1077.38 L335.21,1075.65 L337.62,1073.88 L340.03,1072.07 L342.44,1070.23 L344.85,1068.34 L347.26,1066.42 L349.67,1064.45 L352.08,1062.44 L354.49,1060.4 L356.9,1058.31 L359.31,1056.18 L361.72,1054 L364.13,1051.78 L366.54,1049.52 L368.96,1047.21 L371.37,1044.86 L373.78,1042.46 L376.19,1040.02 L378.6,1037.52 L381.01,1034.98 L383.42,1032.4 L385.83,1029.76 L388.24,1027.07 L390.65,1024.33 L393.06,1021.55 L395.47,1018.71 L397.88,1015.82 L400.29,1012.87 L402.7,1009.87 L405.11,1006.82 L407.52,1003.72 L409.93,1000.56 L412.34,997.34 L414.75,994.07 L417.16,990.73 L419.57,987.35 L421.99,983.9 L424.4,980.39 L426.81,976.83 L429.22,973.2 L431.63,969.51 L434.04,965.76 L436.45,961.95 L438.86,958.07 L441.27,954.13 L443.68,950.13 L446.09,946.06 L448.5,941.92 L450.91,937.72 L453.32,933.45 L455.73,929.11 L458.14,924.7 L460.55,920.22 L462.96,915.67 L465.37,911.05 L467.78,906.36 L470.19,901.6 L472.61,896.76 L475.02,891.85 L477.43,886.86 L479.84,881.8 L482.25,876.66 L484.66,871.45 L487.07,866.15 L489.48,860.78 L491.89,855.33 L494.3,849.79 L496.71,844.18 L499.12,838.48 L501.53,832.71 L503.94,826.85 L506.35,820.9 L508.76,814.87 L511.17,808.75 L513.58,802.55 L515.99,796.26 L518.4,789.88 L520.81,783.41 L523.22,776.85 L525.64,770.2 L528.05,763.46 L530.46,756.63 L532.87,749.7 L535.28,742.68 L537.69,735.56 L540.1,728.35 L542.51,721.04 L544.92,713.63 L547.33,706.13 L549.74,698.52 L552.15,690.82 L554.56,683.01 L556.97,675.11 L559.38,667.1 L561.79,658.98 L564.2,650.76" stroke="#80552d"/>
<path d="M79.7,1136.79 L82.11,1136.76 L84.52,1136.73 L86.93,1136.7 L89.34,1136.67 L91.75,1136.63 L94.16,1136.6 L96.57,1136.55 L98.98,1136.51 L101.39,1136.46 L103.8,1136.41 L106.22,1136.36 L108.63,1136.3 L111.04,1136.24 L113.45,1136.17 L115.86,1136.1 L118.27,1136.03 L120.68,1135.95 L123.09,1135.87 L125.5,1135.78 L127.91,1135.69 L130.32,1135.59 L132.73,1135.49 L135.14,1135.38 L137.55,1135.26 L139.96,1135.14 L142.37,1135.02 L144.78,1134.89 L147.19,1134.75 L149.6,1134.6 L152.01,1134.45 L154.42,1134.3 L156.83,1134.13 L159.25,1133.96 L161.66,1133.78 L164.07,1133.59 L166.48,1133.4 L168.89,1133.19 L171.3,1132.98 L173.71,1132.76 L176.12,1132.53 L178.53,1132.3 L180.94,1132.05 L183.35,1131.8 L185.76,1131.53 L188.17,1131.26 L190.58,1130.97 L192.99,1130.68 L195.4,1130.38 L197.81,1130.06 L200.22,1129.74 L202.63,1129.4 L205.04,1129.06 L207.45,1128.7 L209.86,1128.33 L212.28,1127.95 L214.69,1127.56 L217.1,1127.15 L219.51,1126.74 L221.92,1126.31 L224.33,1125.87 L226.74,1125.41 L229.15,1124.95 L231.56,1124.47 L233.97,1123.97 L236.38,1123.47 L238.79,1122.94 L241.2,1122.41 L243.61,1121.86 L246.02,1121.3 L248.43,1120.72 L250.84,1120.12 L253.25,1119.51 L255.66,1118.89 L258.07,1118.25 L260.48,1117.59 L262.89,1116.92 L265.31,1116.24 L267.72,1115.53 L270.13,1114.81 L272.54,1114.07 L274.95,1113.32 L277.36,1112.55 L279.77,1111.76 L282.18,1110.95 L284.59,1110.13 L287,1109.28 L289.41,1108.42 L291.82,1107.54 L294.23,1106.64 L296.64,1105.72 L299.05,1104.78 L301.46,1103.83 L303.87,1102.85 L306.28,1101.85 L308.69,1100.83 L311.1,1099.79 L313.51,1098.73 L315.93,1097.65 L318.34,1096.55 L320.75,1095.43 L323.16,1094.28 L325.57,1093.11 L327.98,1091.92 L330.39,1090.71 L332.8,1089.47 L335.21,1088.21 L337.62,1086.93 L340.03,1085.62 L342.44,1084.29 L344.85,1082.93 L347.26,1081.55 L349.67,1080.14 L352.08,1078.71 L354.49,1077.25 L356.9,1075.77 L359.31,1074.25 L361.72,1072.71 L364.13,1071.15 L366.54,1069.55 L368.96,1067.93 L371.37,1066.28 L373.78,1064.59 L376.19,1062.88 L378.6,1061.14 L381.01,1059.37 L383.42,1057.57 L385.83,1055.73 L388.24,1053.87 L390.65,1051.97 L393.06,1050.03 L395.47,1048.07 L397.88,1046.07 L400.29,1044.03 L402.7,1041.96 L405.11,1039.85 L407.52,1037.71 L409.93,1035.53 L412.34,1033.31 L414.75,1031.05 L417.16,1028.75 L419.57,1026.41 L421.99,1024.03 L424.4,1021.61 L426.81,1019.15 L429.22,1016.64 L431.63,1014.09 L434.04,1011.49 L436.45,1008.85 L438.86,1006.16 L441.27,1003.42 L443.68,1000.63 L446.09,997.8 L448.5,994.91 L450.91,991.97 L453.32,988.97 L455.73,985.92 L458.14,982.82 L460.55,979.66 L462.96,976.44 L465.37,973.16 L467.78,969.82 L470.19,966.41 L472.61,962.95 L475.02,959.42 L477.43,955.82 L479.84,952.15 L482.25,948.41 L484.66,944.61 L487.07,940.72 L489.48,936.77 L491.89,932.73 L494.3,928.62 L496.71,924.43 L499.12,920.15 L501.53,915.79 L503.94,911.35 L506.35,906.81 L508.76,902.19 L511.17,897.47 L513.58,892.66 L515.99,887.74 L518.4,882.73 L520.81,877.62 L523.22,872.4 L525.64,867.07 L528.05,861.63 L530.46,856.08 L532.87,850.41 L535.28,844.62 L537.69,838.71 L540.1,832.68 L542.51,826.51 L544.92,820.22 L547.33,813.79 L549.74,807.22 L552.15,800.51 L554.56,793.65 L556.97,786.65 L559.38,779.49 L561.79,772.17 L564.2,764.69 L566.61,757.05 L569.02,749.24 L571.43,741.26 L573.84,733.09 L576.25,724.75 L578.67,716.22 L581.08,707.49 L583.49,698.57 L585.9,689.45 L588.31,680.12 L590.72,670.58 L593.13,660.83 L595.54,650.85" stroke="#00ff00"/>
</g>
<rect x="97.4" y="673.6" width="152.5" height="145.4" fill="#fff" stroke="#000" stroke-width="1.3"/>
<path d="M107.2,692.8H158.7" stroke="#0000ff" stroke-width="1.6"/>
<path d="M107.2,723.9H158.7" stroke="#ff0000" stroke-width="1.6"/>
<path d="M107.2,759.7H158.7" stroke="#80552d" stroke-width="1.6"/>
<path d="M107.2,795.6H158.7" stroke="#00ff00" stroke-width="1.6"/>
<g font-family="'Liberation Serif', serif" fill="#000" stroke="#000" stroke-width="0.15" stroke-linejoin="round">
<text x="175.47" y="696.5" font-size="25.05" textLength="48.87" lengthAdjust="spacingAndGlyphs">num</text>
<text x="167.19" y="732.5" font-size="26.74" font-style="italic" textLength="20.36" lengthAdjust="spacingAndGlyphs">O</text>
<text x="188.98" y="732.76" font-size="28.34" textLength="9.2" lengthAdjust="spacingAndGlyphs">(</text>
<text x="197.75" y="732.5" font-size="27" font-style="italic" textLength="8.53" lengthAdjust="spacingAndGlyphs">t</text>
<text x="208.3" y="723.8" font-size="19.03" textLength="11.35" lengthAdjust="spacingAndGlyphs">2</text>
<text x="221.99" y="732.59" font-size="28.22" textLength="8.42" lengthAdjust="spacingAndGlyphs">)</text>
<text x="164.49" y="768.2" font-size="26.74" font-style="italic" textLength="20.36" lengthAdjust="spacingAndGlyphs">O</text>
<text x="186.18" y="768.46" font-size="28.34" textLength="9.2" lengthAdjust="spacingAndGlyphs">(</text>
<text transform="translate(191.38,770.44) scale(0.9017,1) skewX(-0.00)" font-size="25.39" font-family="'IPAGothic', 'Liberation Serif', serif" stroke-width="0.0">γ</text>
<text x="210.97" y="759.7" font-size="19.3" textLength="10.67" lengthAdjust="spacingAndGlyphs">4</text>
<text x="225.09" y="768.29" font-size="28.22" textLength="8.42" lengthAdjust="spacingAndGlyphs">)</text>
<text x="164.49" y="803.8" font-size="26.74" font-style="italic" textLength="20.36" lengthAdjust="spacingAndGlyphs">O</text>
<text x="186.18" y="804.06" font-size="28.34" textLength="9.2" lengthAdjust="spacingAndGlyphs">(</text>
<text transform="translate(191.38,806.04) scale(0.9017,1) skewX(-0.00)" font-size="25.39" font-family="'IPAGothic', 'Liberation Serif', serif" stroke-width="0.0">γ</text>
<text x="210.51" y="795.11" font-size="18.81" textLength="11.67" lengthAdjust="spacingAndGlyphs">8</text>
<text x="225.09" y="803.89" font-size="28.22" textLength="8.42" lengthAdjust="spacingAndGlyphs">)</text>
</g>
<g font-family="'Liberation Serif', serif" fill="#000" stroke="#000" stroke-width="0.15" stroke-linejoin="round">
<text x="56.81" y="1145.73" font-size="26.81" textLength="14.39" lengthAdjust="spacingAndGlyphs">0</text>
<text x="56.25" y="986" font-size="26.06" textLength="14.49" lengthAdjust="spacingAndGlyphs">1</text>
<text x="56.63" y="827" font-size="26.89" textLength="14.46" lengthAdjust="spacingAndGlyphs">2</text>
<text x="56.55" y="667.39" font-size="26.49" textLength="14.04" lengthAdjust="spacingAndGlyphs">3</text>
<text x="87.87" y="643.85" font-size="23.73" textLength="7.56" lengthAdjust="spacingAndGlyphs">·</text>
<text x="94.83" y="643.96" font-size="24.15" textLength="28.03" lengthAdjust="spacingAndGlyphs">10</text>
<text x="123.15" y="639.37" font-size="24" textLength="15.28" lengthAdjust="spacingAndGlyphs">−</text>
<text x="138.1" y="636.6" font-size="17.67" textLength="13.59" lengthAdjust="spacingAndGlyphs">2</text>
<text x="111.2" y="1162.73" font-size="26.51" textLength="35.54" lengthAdjust="spacingAndGlyphs">0.2</text>
<text x="242.91" y="1162.73" font-size="26.51" textLength="34.39" lengthAdjust="spacingAndGlyphs">0.4</text>
<text x="374.58" y="1162.73" font-size="26.51" textLength="34.79" lengthAdjust="spacingAndGlyphs">0.6</text>
<text x="506.26" y="1162.73" font-size="26.51" textLength="35.03" lengthAdjust="spacingAndGlyphs">0.8</text>
<text x="647.9" y="1162.9" font-size="26.82" textLength="14.2" lengthAdjust="spacingAndGlyphs">1</text>
<text transform="translate(354.66,1199.23) scale(0.8863,1) skewX(-0.00)" font-size="28.68" font-family="'IPAGothic', 'Liberation Serif', serif" stroke-width="0.0">γ</text>
<g transform="translate(30.9,0) rotate(-90)">
<text x="-928.62" y="0" font-size="26.56" font-style="italic" textLength="14.04" lengthAdjust="spacingAndGlyphs">λ</text>
<text x="-907.33" y="1.37" font-size="24" textLength="20.62" lengthAdjust="spacingAndGlyphs">−</text>
<text x="-879.3" y="0" font-size="26.67" textLength="13.64" lengthAdjust="spacingAndGlyphs">1</text>
</g>
<text x="201.62" y="1243.74" font-size="29.88" font-weight="bold" textLength="8.94" lengthAdjust="spacingAndGlyphs">(</text>
<text x="209.98" y="1245.1" font-size="29.69" font-weight="bold" textLength="17.91" lengthAdjust="spacingAndGlyphs">b</text>
<text x="229.13" y="1243.74" font-size="29.88" font-weight="bold" textLength="9.07" lengthAdjust="spacingAndGlyphs">)</text>
<text transform="translate(242.2,1244.21) scale(0.9233,1) skewX(-0.00)" font-size="26.8" font-family="'IPAGothic', 'Liberation Serif', serif" stroke-width="0.0">γ</text>
<text x="271.68" y="1243.6" font-size="33.1" textLength="18.96" lengthAdjust="spacingAndGlyphs">≤</text>
<text x="298" y="1240.6" font-size="25.91" textLength="14.77" lengthAdjust="spacingAndGlyphs">1</text>
<text x="312.4" y="1239.93" font-size="30.35" textLength="7.21" lengthAdjust="spacingAndGlyphs">,</text>
<text x="328" y="1241.2" font-size="24.78" textLength="201.69" lengthAdjust="spacingAndGlyphs">double linear axes</text>
</g>
</svg>
</body></html>
